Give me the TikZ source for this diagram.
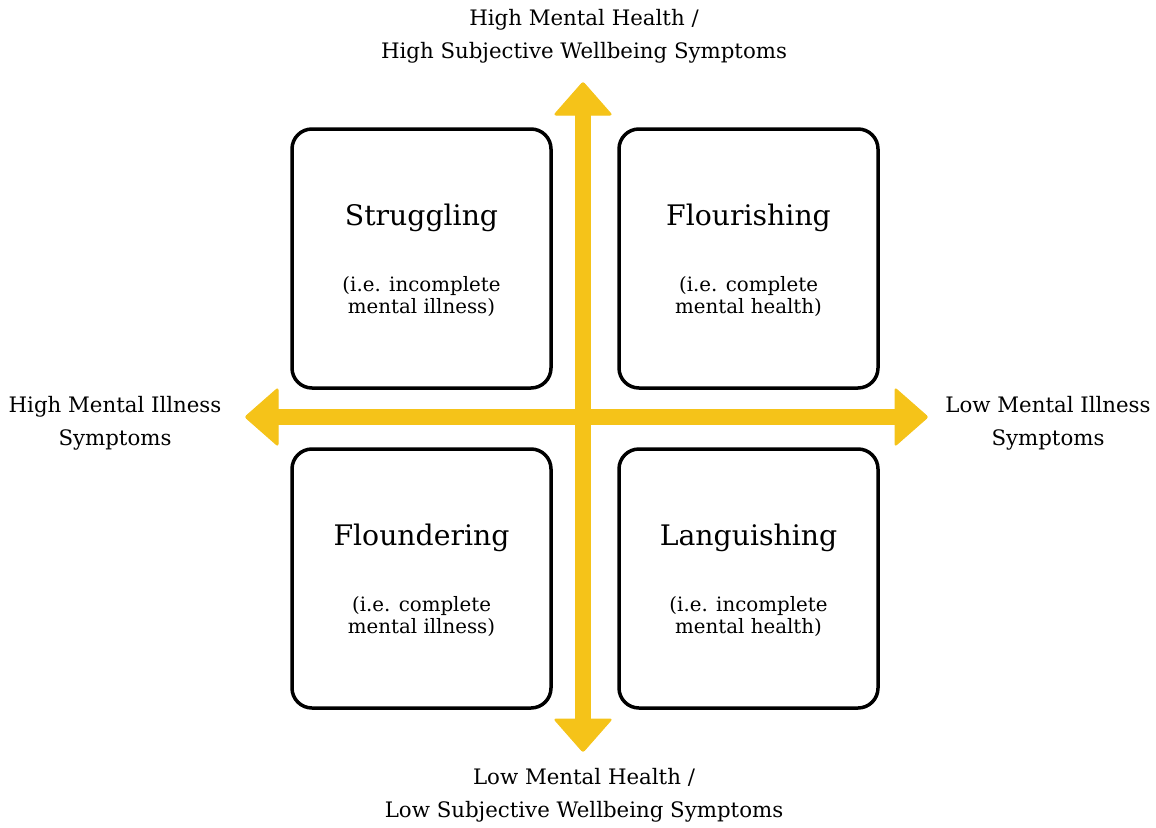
\documentclass[tikz,border=0pt]{standalone}
\usepackage{fontspec}
\setmainfont{DejaVu Serif}
\definecolor{axisyellow}{RGB}{245,195,25}
\begin{document}
\begin{tikzpicture}[x=1pt,y=-1pt,
  quad/.style={draw=black,line width=3.5pt,rounded corners=20pt,fill=white,minimum width=259pt,minimum height=259pt,inner sep=0pt},
  qtitle/.style={font=\fontsize{28.3}{32}\selectfont,inner sep=0pt,anchor=center},
  qsub/.style={font=\fontsize{19.8}{22}\selectfont,align=center,inner sep=0pt,anchor=center},
  axlabel/.style={font=\fontsize{21.3}{33}\selectfont,align=center,inner sep=0pt,anchor=center},
  axisfill/.style={fill=axisyellow,draw=axisyellow,line width=1pt,line join=round}]
\useasboundingbox (0,0) rectangle (1156,827);
% axes
\coordinate (cx) at (583,417);
\coordinate (ntip) at (583,82);
\coordinate (stip) at (583,752);
\coordinate (wtip) at (245,417);
\coordinate (etip) at (928,417);
\fill[axisyellow] (575,115) rectangle (591,719);
\fill[axisyellow] (278,409) rectangle (895,425);
\filldraw[axisfill,rounded corners=2pt] (ntip) -- (554,115) -- (612,115) -- cycle;
\filldraw[axisfill,rounded corners=2pt] (stip) -- (554,719) -- (612,719) -- cycle;
\filldraw[axisfill,rounded corners=2pt] (wtip) -- (278,388) -- (278,446) -- cycle;
\filldraw[axisfill,rounded corners=2pt] (etip) -- (895,388) -- (895,446) -- cycle;
% boxes
\node[quad] (tl) at (421.5,258.5) {};
\node[quad] (tr) at (748.5,258.5) {};
\node[quad] (bl) at (421.5,578.5) {};
\node[quad] (br) at (748.5,578.5) {};
\node[qtitle] (tlt) at ([yshift=41pt]tl.center) {Struggling};
\node[qsub] (tls) at ([yshift=-38pt]tl.center) {(i.e. incomplete\\mental illness)};
\node[qtitle] (trt) at ([yshift=41pt]tr.center) {Flourishing};
\node[qsub] (trs) at ([yshift=-38pt]tr.center) {(i.e. complete\\mental health)};
\node[qtitle] (blt) at ([yshift=41pt]bl.center) {Floundering};
\node[qsub] (bls) at ([yshift=-38pt]bl.center) {(i.e. complete\\mental illness)};
\node[qtitle] (brt) at ([yshift=41pt]br.center) {Languishing};
\node[qsub] (brs) at ([yshift=-38pt]br.center) {(i.e. incomplete\\mental health)};
% axis labels
\node[axlabel] (top) at (584,36) {High Mental Health /\\High Subjective Wellbeing Symptoms};
\node[axlabel] (bot) at (584,795) {Low Mental Health /\\Low Subjective Wellbeing Symptoms};
\node[axlabel] (lft) at (115,423) {High Mental Illness\\Symptoms};
\node[axlabel] (rgt) at (1048,423) {Low Mental Illness\\Symptoms};
\end{tikzpicture}
\end{document}
